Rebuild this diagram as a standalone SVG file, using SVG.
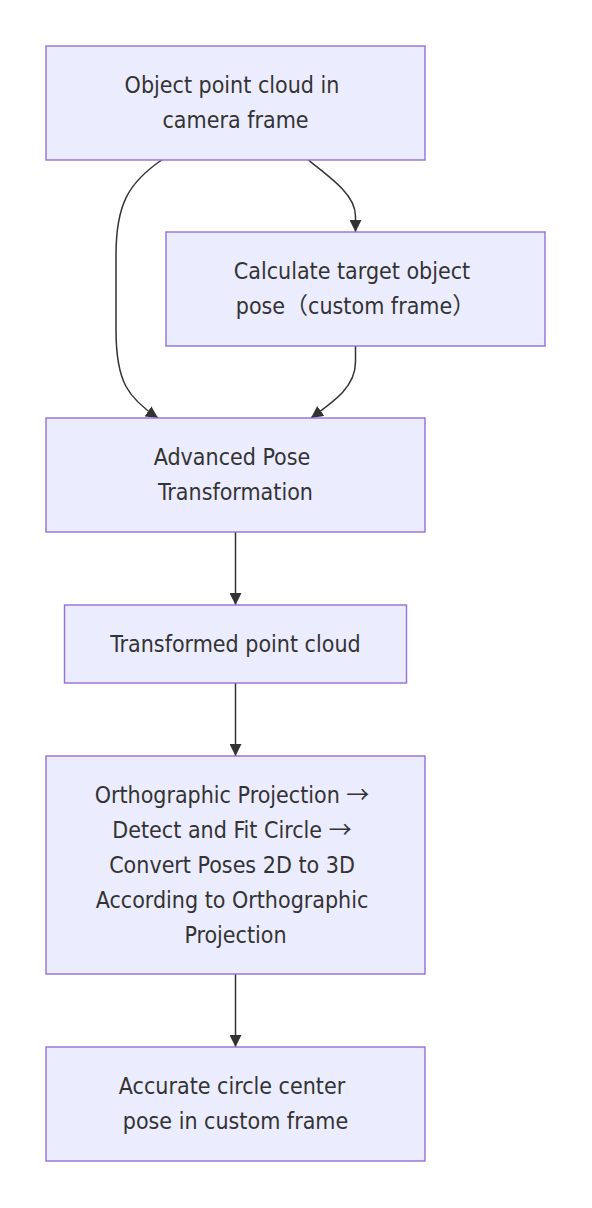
<svg xmlns="http://www.w3.org/2000/svg" width="592" height="1208" viewBox="0 0 592 1208">
<defs>
<style>
.node rect{fill:#ECECFF;stroke:#9370DB;stroke-width:1.4px}
.node text{font-family:"DejaVu Sans Condensed","DejaVu Sans",sans-serif;font-stretch:condensed;font-size:23px;fill:#333333;text-anchor:middle}
.node .cjk{font-family:"Noto Sans CJK SC",sans-serif;font-stretch:normal}
.edge{fill:none;stroke:#333333;stroke-width:1.5px}
</style>
<marker id="arrow" viewBox="0 0 12 12" refX="12" refY="6" markerWidth="12" markerHeight="12" markerUnits="userSpaceOnUse" orient="auto">
<path d="M0,0 L12,6 L0,12 z" fill="#333333"/>
</marker>
</defs>
<rect width="592" height="1208" fill="#ffffff"/>
<g id="connectors">
<path class="edge" d="M161.7,160 C128,183 116,205 116,255 L116,330 C116,382 128,398 158,418" marker-end="url(#arrow)"/>
<path class="edge" d="M308.3,160 C334,180 355.5,196 355.5,216 L355.5,232" marker-end="url(#arrow)"/>
<path class="edge" d="M355.5,346 L355.5,362 C355.5,386 336,400 311,418" marker-end="url(#arrow)"/>
<path class="edge" d="M235.5,532 L235.5,605" marker-end="url(#arrow)"/>
<path class="edge" d="M235.5,683 L235.5,756" marker-end="url(#arrow)"/>
<path class="edge" d="M235.5,974 L235.5,1047" marker-end="url(#arrow)"/>
</g>
<g id="n1" class="node">
<rect x="46" y="46" width="379" height="114"/>
<text x="232" y="93">Object point cloud in</text>
<text x="235.5" y="128">camera frame</text>
</g>
<g id="n2" class="node">
<rect x="166" y="232" width="379" height="114"/>
<text x="352" y="279">Calculate target object</text>
<text x="355.5" y="314">pose<tspan class="cjk">（</tspan>custom frame<tspan class="cjk">）</tspan></text>
</g>
<g id="n3" class="node">
<rect x="46" y="418" width="379" height="114"/>
<text x="232" y="465">Advanced Pose</text>
<text x="235.5" y="500">Transformation</text>
</g>
<g id="n4" class="node">
<rect x="64.5" y="605" width="342" height="78"/>
<text x="235.5" y="651.5">Transformed point cloud</text>
</g>
<g id="n5" class="node">
<rect x="46" y="756" width="379" height="218"/>
<text x="232" y="802.5">Orthographic Projection <tspan class="cjk">→</tspan></text>
<text x="232" y="837.5">Detect and Fit Circle <tspan class="cjk">→</tspan></text>
<text x="232" y="872.5">Convert Poses 2D to 3D</text>
<text x="232" y="907.5">According to Orthographic</text>
<text x="235.5" y="942.5">Projection</text>
</g>
<g id="n6" class="node">
<rect x="46" y="1047" width="379" height="114"/>
<text x="232" y="1094">Accurate circle center</text>
<text x="235.5" y="1129">pose in custom frame</text>
</g>
</svg>
